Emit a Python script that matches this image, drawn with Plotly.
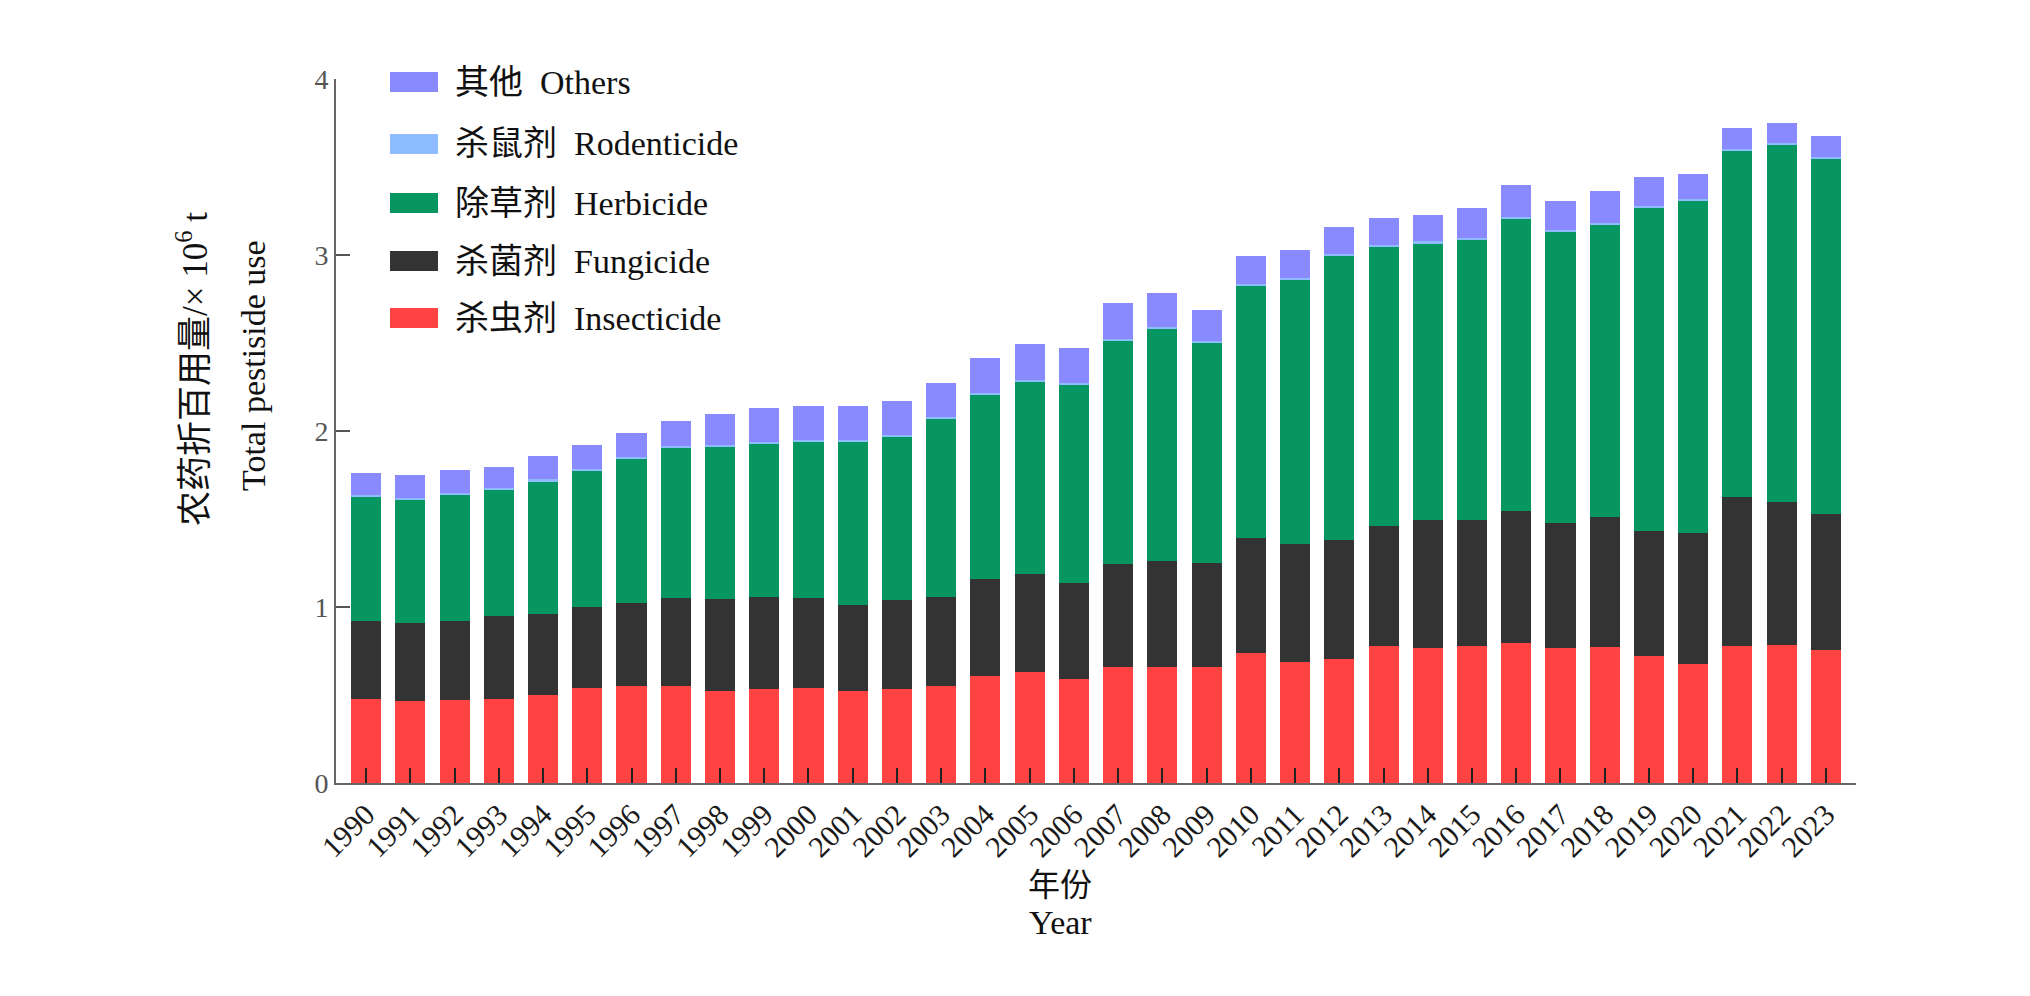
import plotly.graph_objects as go

years = [str(y) for y in range(1990, 2024)]

insecticide = [0.476, 0.466, 0.470, 0.478, 0.500, 0.542, 0.550, 0.550, 0.520, 0.534,
               0.542, 0.520, 0.534, 0.550, 0.606, 0.633, 0.589, 0.661, 0.659, 0.661,
               0.737, 0.689, 0.704, 0.776, 0.765, 0.778, 0.795, 0.769, 0.773, 0.720,
               0.678, 0.778, 0.786, 0.756]
fungicide = [0.442, 0.442, 0.450, 0.472, 0.461, 0.457, 0.472, 0.500, 0.526, 0.522,
             0.510, 0.490, 0.503, 0.506, 0.552, 0.554, 0.550, 0.583, 0.604, 0.587,
             0.654, 0.667, 0.674, 0.682, 0.727, 0.714, 0.749, 0.710, 0.741, 0.714,
             0.741, 0.845, 0.811, 0.775]
herbicide = [0.708, 0.699, 0.716, 0.714, 0.752, 0.771, 0.817, 0.852, 0.863, 0.872,
             0.886, 0.928, 0.931, 1.014, 1.047, 1.092, 1.121, 1.267, 1.317, 1.252,
             1.431, 1.503, 1.615, 1.585, 1.573, 1.592, 1.659, 1.650, 1.655, 1.833,
             1.890, 1.966, 2.028, 2.016]
rodenticide = [0.012] * 34
others = [0.124, 0.132, 0.131, 0.122, 0.135, 0.140, 0.136, 0.143, 0.173, 0.192,
          0.190, 0.190, 0.190, 0.190, 0.199, 0.204, 0.202, 0.206, 0.192, 0.174,
          0.159, 0.159, 0.153, 0.157, 0.152, 0.173, 0.181, 0.168, 0.184, 0.162,
          0.141, 0.122, 0.113, 0.119]

series_names = ["杀虫剂  Insecticide", "杀菌剂  Fungicide", "除草剂  Herbicide",
                "杀鼠剂  Rodenticide", "其他  Others"]
series_values = [insecticide, fungicide, herbicide, rodenticide, others]
series_colors = ["#FF4242", "#333333", "#089660", "#8CBBFF", "#8A8AFF"]

y_ticks = [0, 1, 2, 3, 4]

FONT = "Liberation Serif, Times New Roman, Noto Sans CJK SC, serif"

fig = go.Figure()
for name, vals, col in zip(series_names, series_values, series_colors):
    fig.add_trace(go.Bar(x=years, y=vals, name=name, marker=dict(color=col, line=dict(width=0)),
                         showlegend=False))

# custom legend (top to bottom: Others ... Insecticide)
L, R, T, B = 336, 174, 79, 213
W, H = 2030 - L - R, 996 - T - B
def px(x):
    return (x - L) / W
def py(y):
    return (996 - B - y) / H

row_y = [82, 144, 203, 261, 318]
for i, (name, col) in enumerate(zip(series_names[::-1], series_colors[::-1])):
    yc = row_y[i]
    fig.add_shape(type="rect", xref="paper", yref="paper",
                  x0=px(390), x1=px(438), y0=py(yc + 10), y1=py(yc - 10),
                  fillcolor=col, line=dict(width=0))
    fig.add_annotation(xref="paper", yref="paper", x=px(453), y=py(yc),
                       text=name, showarrow=False, xanchor="left", yanchor="middle",
                       font=dict(family=FONT, size=34, color="#111111"))

# axis titles
fig.add_annotation(xref="paper", yref="paper", x=px(192), y=py(369),
                   text="农药折百用量/× 10<sup>6</sup> t", textangle=-90, showarrow=False,
                   xanchor="center", yanchor="middle",
                   font=dict(family=FONT, size=35, color="#111111"))
fig.add_annotation(xref="paper", yref="paper", x=px(253), y=py(366),
                   text="Total pestiside use", textangle=-90, showarrow=False,
                   xanchor="center", yanchor="middle",
                   font=dict(family=FONT, size=34, color="#111111"))
fig.add_annotation(xref="paper", yref="paper", x=px(1060), y=py(885),
                   text="年份", showarrow=False, xanchor="center", yanchor="middle",
                   font=dict(family=FONT, size=32, color="#111111"))
fig.add_annotation(xref="paper", yref="paper", x=px(1060), y=py(923),
                   text="Year", showarrow=False, xanchor="center", yanchor="middle",
                   font=dict(family=FONT, size=34, color="#111111"))

fig.update_layout(
    barmode="stack",
    bargap=0.32,
    width=2030, height=996,
    margin=dict(l=L, r=R, t=T, b=B),
    paper_bgcolor="white", plot_bgcolor="white",
    font=dict(family=FONT),
)
fig.update_xaxes(
    type="category", range=[-0.68, 33.68],
    showline=True, linecolor="#666666", linewidth=2,
    ticks="inside", ticklen=15, tickwidth=2, tickcolor="#222222",
    tickangle=-45, tickfont=dict(family=FONT, size=30, color="#1a1a1a"),
    showgrid=False, zeroline=False,
)
fig.update_yaxes(
    range=[0, 4], tickvals=y_ticks,
    showline=True, linecolor="#666666", linewidth=2,
    ticks="inside", ticklen=14, tickwidth=2, tickcolor="#555555",
    tickfont=dict(family=FONT, size=28, color="#555555"),
    showgrid=False, zeroline=False,
)

fig.write_html("out.html")
